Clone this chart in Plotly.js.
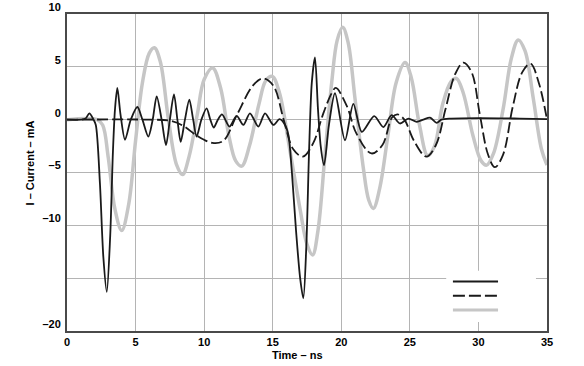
<!DOCTYPE html>
<html>
<head>
<meta charset="utf-8">
<script src="https://cdn.plot.ly/plotly-3.0.1.min.js"></script>
<style>html,body{margin:0;padding:0;background:#fff;}#chart{width:584px;height:366px;}</style>
</head>
<body>
<div id="chart"></div>
<script>
// Solid black series (Time ns, Current mA)
const solidT = [0,1.0,1.35,1.63,1.9,2.1,2.4,2.65,2.9,3.15,3.35,3.5,3.67,3.9,4.23,4.65,5.13,5.5,5.93,6.25,6.54,6.9,7.22,7.5,7.8,8.05,8.29,8.6,8.92,9.2,9.45,9.8,10.18,10.45,10.7,11.0,11.3,11.85,12.37,12.86,13.34,13.95,14.44,15.05,15.5,15.9,16.15,16.4,16.7,17.0,17.23,17.45,17.65,17.85,18.08,18.3,18.5,18.74,19.1,19.54,20.27,20.88,21.5,22.4,23.07,23.67,24.28,24.89,25.5,25.98,26.47,26.96,27.3,28,30,33,35];
const solidV = [0,0,0.1,0.6,0.1,-0.5,-6,-13,-16.3,-11,-3,1,3.0,0.5,-1.9,0,1.2,0,-1.6,0,2.2,0,-2.4,0,2.4,0,-2.1,0,1.9,0,-1.6,0,1.06,0,-0.75,0,0.5,-0.65,0.35,-0.5,0.6,-0.65,0.6,-0.5,0.05,-0.5,-1.5,-5,-10.5,-15,-16.9,-12,-3,3.5,5.9,1,-2.5,-4.3,-0.5,2.5,-1.95,1.5,-1.15,0.33,-0.7,0.43,-0.36,0.1,-0.2,0,0.2,-0.3,0,0.1,0.15,0.1,0.05];

// Dashed black series
const dashT = [0,6,7.5,8.5,9.45,10.6,11.4,12.37,13.6,14.3,15.05,15.8,16.5,17.2,17.96,18.69,19.3,19.6,20.4,21.1,22.2,23.0,23.7,24.1,24.6,25.3,26.2,26.9,27.6,28.3,28.9,29.5,30.1,30.7,31.2,31.8,32.5,33.2,33.8,34.4,35];
const dashV = [0,0,-0.1,-0.6,-1.5,-2.2,-2.0,0.4,3.3,3.9,3.2,0,-2.8,-3.5,-2.2,0.6,2.5,3.0,1.3,-1.3,-3.2,-2.4,0.2,0.5,0,-2.0,-3.5,-2.4,1,4.3,5.4,4.5,0.5,-3.3,-4.5,-3.3,1.2,4.5,5.3,3.5,0];

// Gray series
const grayT = [0,2.2,2.6,3.0,3.5,3.99,4.5,5.0,5.5,6.0,6.37,6.8,7.4,8.0,8.43,8.9,9.5,10.0,10.62,11.2,11.8,12.3,12.74,13.3,14.0,14.5,14.97,15.5,16.2,17.0,17.5,17.91,18.3,18.8,19.3,19.7,20.1,20.5,21.0,21.6,22.0,22.34,22.8,23.4,24.0,24.65,25.1,25.7,26.3,26.8,27.4,28.0,28.4,28.9,29.6,30.2,30.6,31.1,31.8,32.4,32.9,33.4,34.0,34.6,35.0];
const grayV = [0,0,-0.5,-3.5,-8.5,-10.5,-8.0,-2.0,3.5,6.3,6.8,5.5,0,-4.3,-5.2,-3.5,0.5,3.8,4.9,3.0,-1.5,-3.9,-4.4,-2.5,1.5,3.7,4.1,2.5,-2.5,-8.5,-11.8,-12.8,-10.5,-3.5,3.5,7.5,8.75,7.3,2,-4.5,-7.6,-8.4,-6.5,-1.5,3.5,5.4,4.0,-0.5,-3.4,-2.5,1.5,3.6,3.9,2.5,-1.5,-3.9,-4.3,-3.2,1,5.8,7.55,6.5,2,-2.8,-4.3];

const xTickVals = [0,5,10,15,20,25,30,35];
const yTickVals = [10,5,0,-5,-10,-15,-20];
const yTickText = ['10','5','0','\u20135','\u201310','','\u201320'];

const tickFont = {family:'Liberation Sans, Arial, sans-serif', size:11, color:'#000', weight:'bold'};

const traces = [
  {x: grayT, y: grayV, type:'scatter', mode:'lines', line:{color:'#c6c6c6', width:3.5, shape:'spline', smoothing:1}, hoverinfo:'skip'},
  {x: dashT, y: dashV, type:'scatter', mode:'lines', line:{color:'#1a1a1a', width:1.8, dash:'11px,4px', shape:'spline', smoothing:1}, hoverinfo:'skip'},
  {x: solidT, y: solidV, type:'scatter', mode:'lines', line:{color:'#1a1a1a', width:1.8, shape:'spline', smoothing:0.8}, hoverinfo:'skip'}
];

const legendShapes = [
  {type:'rect', xref:'paper', yref:'paper', x0:0.790, x1:0.977, y0:0.028, y1:0.19, fillcolor:'#fff', line:{width:0}, layer:'above'},
  {type:'line', xref:'paper', yref:'paper', x0:0.804, x1:0.898, y0:0.156, y1:0.156, line:{color:'#1a1a1a', width:2}, layer:'above'},
  {type:'line', xref:'paper', yref:'paper', x0:0.804, x1:0.898, y0:0.111, y1:0.111, line:{color:'#1a1a1a', width:2, dash:'12px,4px'}, layer:'above'},
  {type:'line', xref:'paper', yref:'paper', x0:0.804, x1:0.898, y0:0.066, y1:0.066, line:{color:'#c6c6c6', width:3}, layer:'above'}
];

const layout = {
  width:584, height:366,
  margin:{l:67, r:37, t:14, b:35, pad:0},
  paper_bgcolor:'#fff', plot_bgcolor:'#fff',
  showlegend:false,
  font:{family:'Liberation Sans, Arial, sans-serif', size:11, color:'#000'},
  xaxis:{range:[0,35], tickvals:xTickVals, ticks:'', showgrid:true, gridcolor:'#b4b4b4', gridwidth:1,
         zeroline:false, showline:true, mirror:true, linecolor:'#4a4a4a', linewidth:2, tickfont:tickFont, ticklabelstandoff:0},
  yaxis:{range:[-20,10], tickvals:yTickVals, ticktext:yTickText, ticks:'', showgrid:true, gridcolor:'#b4b4b4', gridwidth:1,
         zeroline:false, showline:true, mirror:true, linecolor:'#4a4a4a', linewidth:2, tickfont:tickFont, ticklabelshift:-7, ticklabelstandoff:2},
  shapes: legendShapes,
  annotations:[
    {text:'Time \u2013 ns', xref:'paper', yref:'paper', x:(297-67)/480, y:(330-354)/316, xanchor:'center', yanchor:'middle', showarrow:false, font:tickFont},
    {text:'I \u2013 Current \u2013 mA', xref:'paper', yref:'paper', x:(30-67)/480, y:(330-163)/316, xanchor:'center', yanchor:'middle', textangle:-90, showarrow:false, font:tickFont}
  ]
};

Plotly.newPlot('chart', traces, layout, {displayModeBar:false, staticPlot:true});
</script>
</body>
</html>
